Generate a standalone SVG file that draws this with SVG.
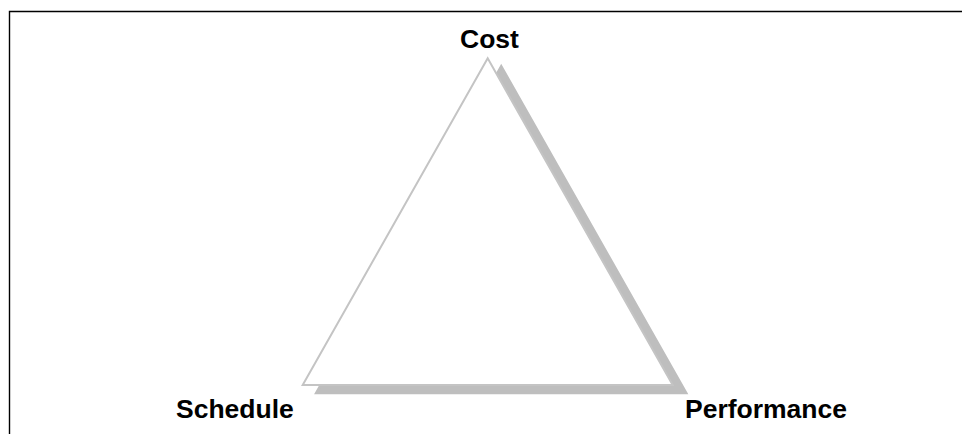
<svg xmlns="http://www.w3.org/2000/svg" width="962" height="434" viewBox="0 0 962 434">
<style>
.lbl{font-family:"Liberation Sans",Arial,Helvetica,sans-serif;font-weight:bold;font-size:26.5px;fill:#000}
.frame{stroke:#000;stroke-width:1.4;fill:none}
</style>
<rect width="962" height="434" fill="#fff"/>
<path class="frame" d="M9.5 434 V11.5 H962"/>
<g id="triangle">
<polygon points="501.2,66.3 316.2,393 686.2,393" fill="#bebebe" stroke="#bebebe" stroke-width="2.5"/>
<polygon points="487.7,58.3 302.7,385 672.7,385" fill="#fff" stroke="#c4c4c4" stroke-width="2"/>
</g>
<g id="connectors"/>
<g id="cost"><text class="lbl" x="489.5" y="48" text-anchor="middle">Cost</text></g>
<g id="schedule"><text class="lbl" x="176" y="418">Schedule</text></g>
<g id="performance"><text class="lbl" x="685" y="418">Performance</text></g>
</svg>
